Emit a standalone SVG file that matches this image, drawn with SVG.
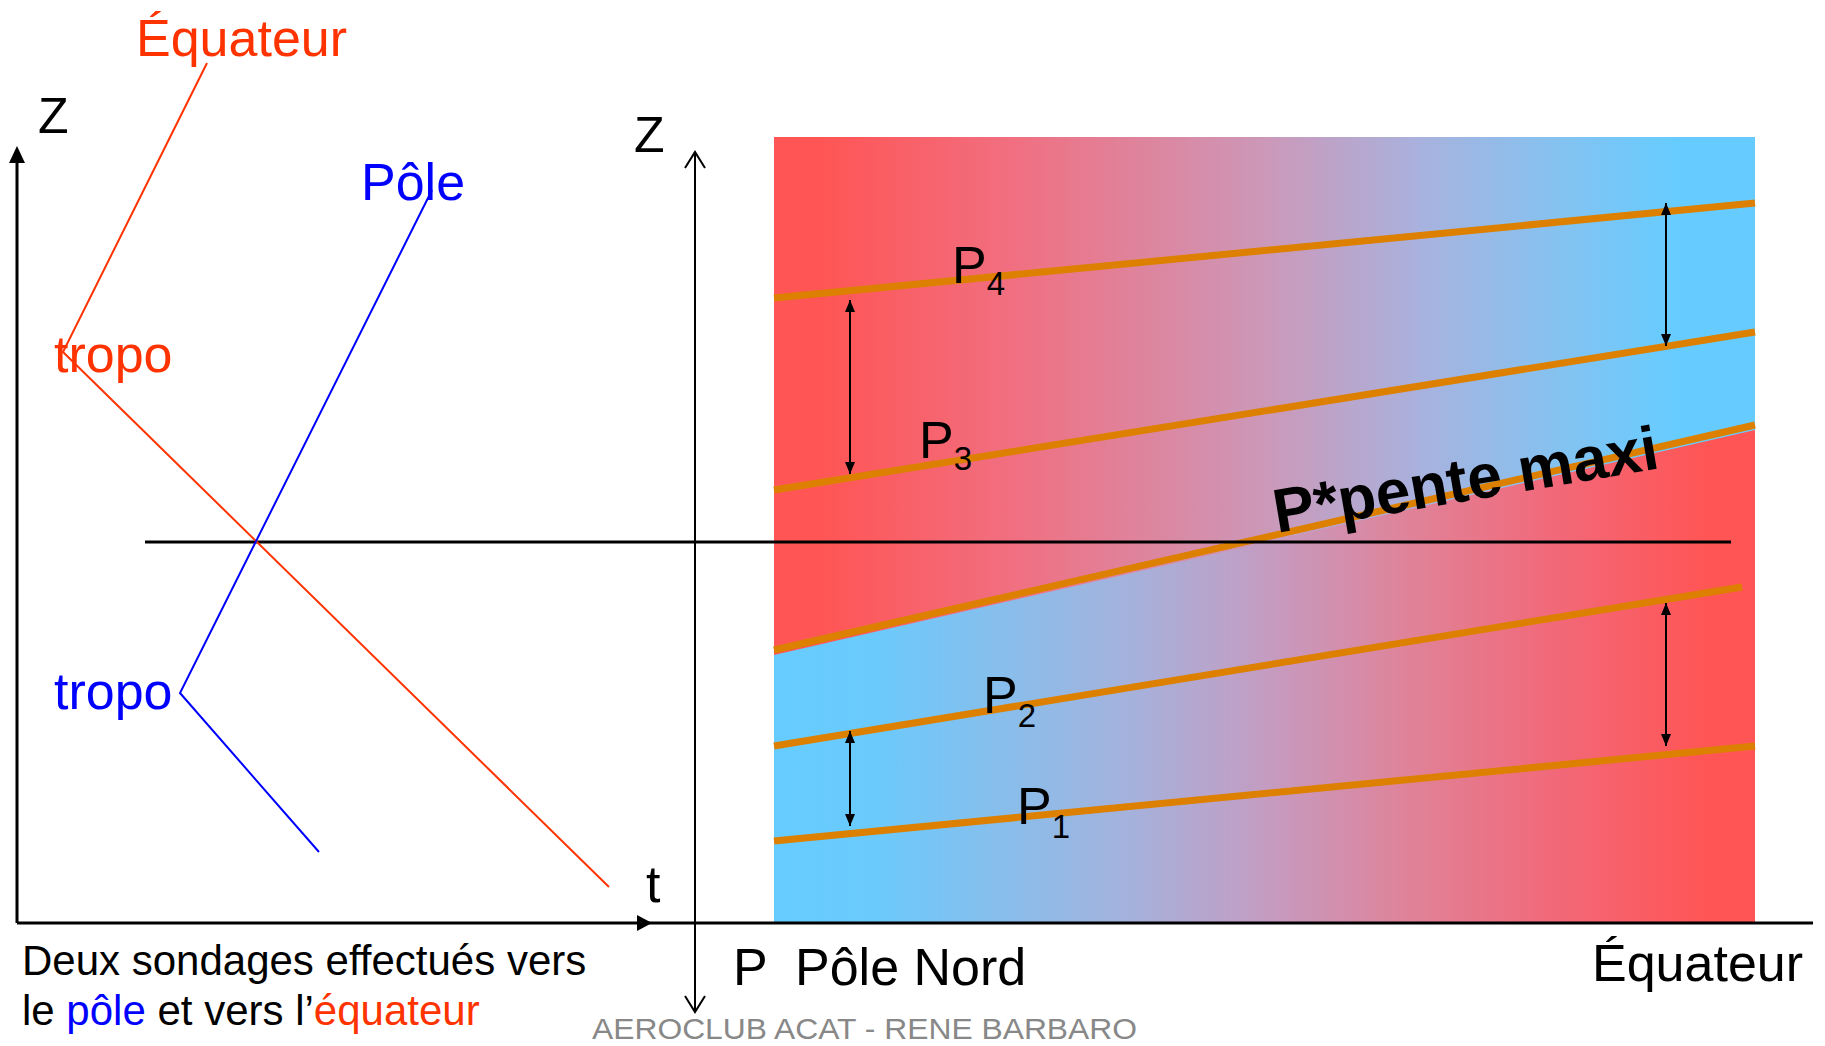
<svg xmlns="http://www.w3.org/2000/svg" width="1825" height="1046" viewBox="0 0 1825 1046">
<defs>
<linearGradient id="gTop" gradientUnits="userSpaceOnUse" x1="774" y1="0" x2="1755" y2="0">
<stop offset="0" stop-color="#FF5555"/>
<stop offset="0.05" stop-color="#FF5555"/>
<stop offset="0.25" stop-color="#F07082"/>
<stop offset="0.5" stop-color="#CC98B8"/>
<stop offset="0.66" stop-color="#A8B2DE"/>
<stop offset="0.8" stop-color="#84C2F0"/>
<stop offset="0.92" stop-color="#66CCFF"/>
<stop offset="1" stop-color="#66CCFF"/>
</linearGradient>
<linearGradient id="gBot" gradientUnits="userSpaceOnUse" x1="774" y1="0" x2="1755" y2="0">
<stop offset="0" stop-color="#66CCFF"/>
<stop offset="0.1" stop-color="#6ACAFC"/>
<stop offset="0.36" stop-color="#A4B2DC"/>
<stop offset="0.5" stop-color="#C49CC2"/>
<stop offset="0.65" stop-color="#E08298"/>
<stop offset="0.8" stop-color="#F26878"/>
<stop offset="0.95" stop-color="#FF5555"/>
<stop offset="1" stop-color="#FF5555"/>
</linearGradient>
<marker id="ah" viewBox="0 0 12 10" refX="12" refY="5" markerWidth="12" markerHeight="10" markerUnits="userSpaceOnUse" orient="auto-start-reverse">
<path d="M0,0 L12,5 L0,10 z" fill="#000"/>
</marker>
<style>
.t{font-family:"Liberation Sans",Arial,sans-serif}
.big{font-size:52px}
.iso{stroke:#DD8000;stroke-width:7;fill:none}
.dbl{stroke:#000;stroke-width:2;fill:none;marker-start:url(#ah);marker-end:url(#ah)}
.ax{stroke:#000;stroke-width:3;fill:none}
</style>
</defs>
<rect width="1825" height="1046" fill="#fff"/>

<g id="field">
<rect x="774" y="137" width="981" height="786" fill="url(#gTop)"/>
<polygon points="774,655 1755,430 1755,923 774,923" fill="url(#gBot)"/>
</g>

<g id="isobars">
<line class="iso" x1="774" y1="298" x2="1755" y2="203"/>
<line class="iso" x1="774" y1="490" x2="1755" y2="332"/>
<line class="iso" x1="774" y1="650" x2="1755" y2="425"/>
<line class="iso" x1="774" y1="746" x2="1742" y2="587"/>
<line class="iso" x1="774" y1="841" x2="1755" y2="746"/>
</g>

<g id="axes">
<line class="ax" x1="17" y1="923" x2="1813" y2="923"/>
<line class="ax" x1="17" y1="923" x2="17" y2="160"/>
<path d="M17,146 L9,163 L25,163 z" fill="#000"/>
<path d="M652,923 L637,915 L637,931 z" fill="#000"/>
<line x1="695" y1="152" x2="695" y2="1012" stroke="#000" stroke-width="2"/>
<polyline points="685,168 695,152 705,168" fill="none" stroke="#000" stroke-width="2"/>
<polyline points="685,996 695,1012 705,996" fill="none" stroke="#000" stroke-width="2"/>
<line class="ax" x1="145" y1="542" x2="1731" y2="542"/>
</g>

<g id="sondage-equateur">
<polyline points="207,63 63,352 609,887" fill="none" stroke="#FF3300" stroke-width="2"/>
</g>
<g id="sondage-pole">
<polyline points="432,190 180,693 319,852" fill="none" stroke="#0000FF" stroke-width="2"/>
</g>

<g id="connectors">
<line class="dbl" x1="850" y1="300" x2="850" y2="474"/>
<line class="dbl" x1="1666" y1="203" x2="1666" y2="346"/>
<line class="dbl" x1="850" y1="731" x2="850" y2="826"/>
<line class="dbl" x1="1666" y1="603" x2="1666" y2="746"/>
</g>

<g id="labels" class="t">
<text x="38" y="133" font-size="50">Z</text>
<text x="634" y="152" font-size="50">Z</text>
<text x="646" y="902" font-size="52">t</text>
<text x="136" y="56" class="big" fill="#FF3300">Équateur</text>
<text x="361" y="200" class="big" fill="#0000FF">Pôle</text>
<text x="54" y="372" class="big" fill="#FF3300">tropo</text>
<text x="54" y="709" class="big" fill="#0000FF">tropo</text>
<text x="22" y="975" font-size="42">Deux sondages effectués vers</text>
<text x="22" y="1025" font-size="42">le <tspan fill="#0000FF">pôle</tspan> et vers l’<tspan fill="#FF3300">équateur</tspan></text>
<text x="733" y="985" class="big">P</text>
<text x="795" y="985" class="big">Pôle Nord</text>
<text x="1592" y="981" class="big">Équateur</text>
<text x="592" y="1039" font-size="30" fill="#888888" textLength="545" lengthAdjust="spacingAndGlyphs">AEROCLUB ACAT - RENE BARBARO</text>
<text x="952" y="283" class="big">P<tspan font-size="33" dy="12">4</tspan></text>
<text x="919" y="458" class="big">P<tspan font-size="33" dy="12">3</tspan></text>
<text x="983" y="713" class="big">P<tspan font-size="33" dy="14">2</tspan></text>
<text x="1017" y="824" class="big">P<tspan font-size="33" dy="14">1</tspan></text>
<text transform="translate(1277,533) rotate(-9.6)" font-size="62" font-weight="bold">P*pente maxi</text>
</g>
</svg>
